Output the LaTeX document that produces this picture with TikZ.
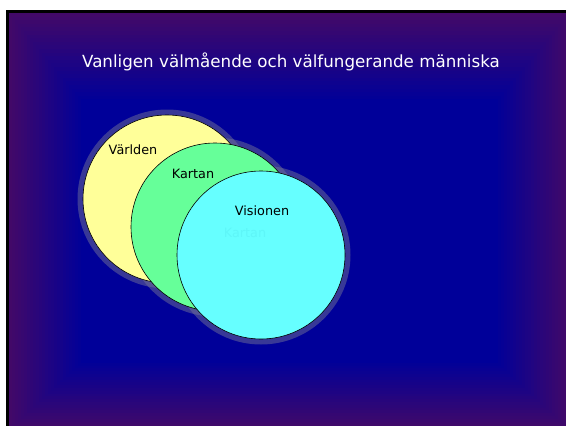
\documentclass[tikz,border=0pt]{standalone}
\usepackage{fontspec}
\setmainfont{DejaVu Sans}
\usetikzlibrary{positioning}
\definecolor{slideblue}{HTML}{000099}
\definecolor{slidepurple}{HTML}{420968}
\definecolor{worldfill}{HTML}{FFFF99}
\definecolor{mapfill}{HTML}{66FF99}
\definecolor{visionfill}{HTML}{66FFFF}
\definecolor{halo}{RGB}{112,112,150}
\definecolor{ghost}{HTML}{5EF6F8}
\tikzset{disc/.style={circle,draw=black,line width=0.6pt,minimum size=168pt,inner sep=0pt},
  glow/.style={circle,fill=halo,opacity=0.5,minimum size=179pt,inner sep=0pt},
  caption/.style={font=\fontsize{12.8}{15}\selectfont,text=black,inner sep=0pt}}

\begin{document}
\begin{tikzpicture}[x=1pt,y=-1pt]
\useasboundingbox (0,0) rectangle (566,426);
\fill[white] (0,0) rectangle (566,426);
% slide background
\foreach \i in {0,...,24}{
  \pgfmathtruncatemacro\p{\i*100/24}
  \fill[slideblue!\p!slidepurple] (9+\i*3,13+\i*3.6) rectangle (570-\i*3,430-\i*2.8);
}
\fill[black] (6,10) rectangle (570,13);
\fill[black] (6,10) rectangle (9,430);
\node[font=\fontsize{16.7}{20}\selectfont,text=white,inner sep=0pt] (title) at (291,62)
  {Vanligen välmående och välfungerande människa};
% circles
\node[glow] (worldglow) at (167,199) {};
\node[glow] (mapglow) at (215,227) {};
\node[glow] (visionglow) at (261,255) {};
\node[disc,fill=worldfill] (world) at (167,199) {};
\node[disc,fill=mapfill] (map) at (215,227) {};
\node[disc,fill=visionfill] (vision) at (261,255) {};
% labels
\node[caption] (worldlbl) at (133,150) {Världen};
\node[caption] (maplbl) at (193,174) {Kartan};
\node[caption] (visionlbl) at (262,211) {Visionen};
\node[caption,text=ghost] (ghostlbl) at (245,233) {Kartan};
\end{tikzpicture}
\end{document}
